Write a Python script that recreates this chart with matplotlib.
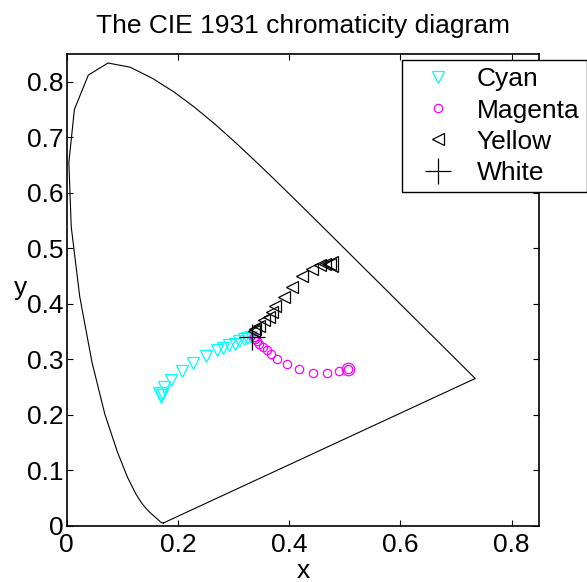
import matplotlib
matplotlib.use('Agg')
import matplotlib.pyplot as plt
from matplotlib.ticker import FuncFormatter

plt.rcParams['font.family'] = ['Liberation Sans', 'DejaVu Sans']

# CIE 1931 spectral locus, 380-700 nm every 5 nm
locus_x = [0.1741, 0.1740, 0.1738, 0.1736, 0.1733, 0.1730, 0.1726, 0.1721, 0.1714, 0.1703,
           0.1689, 0.1669, 0.1644, 0.1611, 0.1566, 0.1510, 0.1440, 0.1355, 0.1241, 0.1096,
           0.0913, 0.0687, 0.0454, 0.0235, 0.0082, 0.0039, 0.0139, 0.0389, 0.0743, 0.1142,
           0.1547, 0.1929, 0.2296, 0.2658, 0.3016, 0.3373, 0.3731, 0.4087, 0.4441, 0.4788,
           0.5125, 0.5448, 0.5752, 0.6029, 0.6270, 0.6482, 0.6658, 0.6801, 0.6915, 0.7006,
           0.7079, 0.7140, 0.7190, 0.7230, 0.7260, 0.7283, 0.7300, 0.7311, 0.7320, 0.7327,
           0.7334, 0.7340, 0.7344, 0.7346, 0.7347]
locus_y = [0.0050, 0.0050, 0.0049, 0.0049, 0.0048, 0.0048, 0.0048, 0.0048, 0.0051, 0.0058,
           0.0069, 0.0086, 0.0109, 0.0138, 0.0177, 0.0227, 0.0297, 0.0399, 0.0578, 0.0868,
           0.1327, 0.2007, 0.2950, 0.4127, 0.5384, 0.6548, 0.7502, 0.8120, 0.8338, 0.8262,
           0.8059, 0.7816, 0.7543, 0.7243, 0.6923, 0.6589, 0.6245, 0.5896, 0.5547, 0.5202,
           0.4866, 0.4544, 0.4242, 0.3965, 0.3725, 0.3514, 0.3340, 0.3197, 0.3083, 0.2993,
           0.2920, 0.2859, 0.2809, 0.2770, 0.2740, 0.2717, 0.2700, 0.2689, 0.2680, 0.2673,
           0.2666, 0.2660, 0.2656, 0.2654, 0.2653]

# mixing paths, last point is the full colour
cyan_x = [0.331, 0.325, 0.318, 0.310, 0.303, 0.292, 0.282, 0.270, 0.250, 0.228, 0.207, 0.187, 0.175, 0.171, 0.169]
cyan_y = [0.340, 0.338, 0.336, 0.333, 0.328, 0.325, 0.321, 0.316, 0.305, 0.293, 0.278, 0.262, 0.250, 0.239, 0.235]
magenta_x = [0.336, 0.339, 0.342, 0.346, 0.353, 0.360, 0.367, 0.379, 0.396, 0.417, 0.443, 0.468, 0.489, 0.506]
magenta_y = [0.340, 0.337, 0.332, 0.327, 0.322, 0.316, 0.310, 0.300, 0.291, 0.282, 0.275, 0.276, 0.279, 0.283]
yellow_x = [0.336, 0.339, 0.345, 0.354, 0.363, 0.369, 0.375, 0.390, 0.406, 0.424, 0.441, 0.456, 0.465, 0.474]
yellow_y = [0.351, 0.355, 0.360, 0.370, 0.376, 0.385, 0.396, 0.413, 0.431, 0.450, 0.462, 0.469, 0.472, 0.471]
white_x = [0.333]
white_y = [0.340]

fig = plt.figure(figsize=(5.87, 5.82), dpi=100)
ax = fig.add_axes([0.1136, 0.0967, 0.8052, 0.8105])

# closed horseshoe: locus plus the purple line
ax.plot(locus_x + [locus_x[0]], locus_y + [locus_y[0]], color='black', lw=0.8)

c, = ax.plot(cyan_x, cyan_y, 'v', color='cyan', ms=8.5, mfc='none', mew=0.9, label='Cyan')
ax.plot(cyan_x[-1:], cyan_y[-1:], 'v', color='cyan', ms=11, mfc='none', mew=0.9)
m, = ax.plot(magenta_x, magenta_y, 'o', color='magenta', ms=6, mfc='none', mew=0.9, label='Magenta')
ax.plot(magenta_x[-1:], magenta_y[-1:], 'o', color='magenta', ms=9, mfc='none', mew=0.9)
y, = ax.plot(yellow_x, yellow_y, '<', color='black', ms=8.5, mfc='none', mew=0.9, label='Yellow')
ax.plot(yellow_x[-1:], yellow_y[-1:], '<', color='black', ms=11, mfc='none', mew=0.9)
w, = ax.plot(white_x, white_y, '+', color='black', ms=19, mew=0.9, label='White')

ax.set_xlim(0, 0.85)
ax.set_ylim(0, 0.85)
ax.set_xticks([0, 0.2, 0.4, 0.6, 0.8])
ax.set_yticks([0, 0.1, 0.2, 0.3, 0.4, 0.5, 0.6, 0.7, 0.8])
fmt = FuncFormatter(lambda v, p: '%g' % round(v, 2))
ax.xaxis.set_major_formatter(fmt)
ax.yaxis.set_major_formatter(fmt)
ax.tick_params(direction='in', length=4, width=0.8, labelsize=19, top=True, right=True)
ax.tick_params(axis='y', pad=2)
ax.tick_params(axis='x', pad=5)
for s in ax.spines.values():
    s.set_linewidth(1.2)

ax.set_title('The CIE 1931 chromaticity diagram', fontsize=19, pad=15)
ax.set_xlabel('x', fontsize=19, va='center')
ax.set_ylabel('y', fontsize=19, rotation=0, ha='center', va='center')
ax.xaxis.set_label_coords(0.5, -0.095)
ax.yaxis.set_label_coords(-0.097, 0.504)

leg = ax.legend(handles=[c, m, y, w], loc='upper left', bbox_to_anchor=(0.6848, 0.8969),
                bbox_transform=fig.transFigure, fontsize=19, frameon=True, fancybox=False,
                framealpha=1, edgecolor='black', borderpad=0.28, handlelength=2.2,
                handletextpad=0.34, labelspacing=0.27, borderaxespad=0)
leg.get_frame().set_linewidth(1.0)

fig.savefig('out.png', dpi=100)
